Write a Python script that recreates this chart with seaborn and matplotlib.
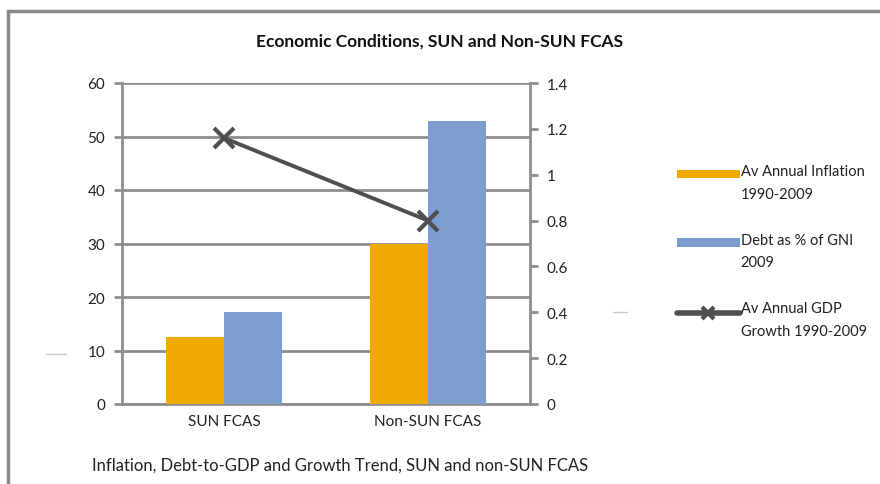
import numpy as np
import pandas as pd
import matplotlib
matplotlib.use("Agg")
import matplotlib.pyplot as plt
from matplotlib.lines import Line2D
from matplotlib.patches import Patch, Rectangle
from matplotlib.legend_handler import HandlerPatch, HandlerLine2D
import seaborn as sns

categories = ["SUN FCAS", "Non-SUN FCAS"]
inflation = [12.5, 30.0]
debt = [17.2, 52.9]
gdp_growth = [1.16, 0.80]
series_names = ["Av Annual Inflation\n1990-2009", "Debt as % of GNI\n2009",
                "Av Annual GDP\nGrowth 1990-2009"]
left_ticks = [0, 10, 20, 30, 40, 50, 60]
right_ticks = [0, 0.2, 0.4, 0.6, 0.8, 1, 1.2, 1.4]
right_tick_labels = ["0", "0.2", "0.4", "0.6", "0.8", "1", "1.2", "1.4"]
title = "Economic Conditions, SUN and Non-SUN FCAS"
caption = "Inflation, Debt-to-GDP and Growth Trend, SUN and non-SUN FCAS"

sns.set_theme(style="white")
plt.rcParams["font.family"] = ["Lato", "DejaVu Sans"]

orange = "#EFA900"
blue = "#7B9DD0"
linec = "#4F4F4F"
gridc = "#8E8E8E"
textc = "#222222"

df = pd.DataFrame({
    "cat": categories * 2,
    "val": inflation + debt,
    "series": [series_names[0]] * 2 + [series_names[1]] * 2,
})

fig = plt.figure(figsize=(8.8, 4.85), dpi=100)
ax = fig.add_axes([122 / 880, 1 - 405 / 485, (530 - 122) / 880, (405 - 84) / 485])

sns.barplot(data=df, x="cat", y="val", hue="series", order=categories,
            hue_order=series_names[:2], palette=[orange, blue], ax=ax,
            width=0.57, saturation=1, legend=False, zorder=3, linewidth=0)

ax.set_ylim(0, 60)
ax.set_xlim(-0.5, 1.5)
ax.set_yticks(left_ticks)
ax.set_yticklabels([str(t) for t in left_ticks], fontsize=11, color=textc)
ax.set_xticks(range(len(categories)))
ax.set_xticklabels(categories, fontsize=11, color=textc)
ax.set_xticks([-0.5, 0.5, 1.5], minor=True)
ax.tick_params(axis="x", which="major", length=0, pad=7)
ax.tick_params(axis="x", which="minor", length=6, width=2, color=gridc, direction="out")
ax.tick_params(axis="y", length=6, width=2, color=gridc, direction="out", left=True, pad=6)
ax.set_xlabel("")
ax.set_ylabel("")
ax.yaxis.grid(True, color=gridc, linewidth=2)
ax.set_axisbelow(True)
for s in ["top", "right"]:
    ax.spines[s].set_visible(False)
for s in ["left", "bottom"]:
    ax.spines[s].set_color(gridc)
    ax.spines[s].set_linewidth(2)

ax2 = ax.twinx()
sns.pointplot(x=categories, y=gdp_growth, order=categories, ax=ax2, color=linec,
              markers="x", markersize=15, markeredgewidth=3, linewidth=2.8,
              errorbar=None, zorder=5)
ax2.set_xlim(-0.5, 1.5)
ax2.set_ylim(0, 1.4)
ax2.set_yticks(right_ticks)
ax2.set_yticklabels(right_tick_labels, fontsize=11, color=textc)
ax2.tick_params(axis="y", length=6, width=2, color=gridc, direction="out", right=True, pad=6)
ax2.set_ylabel("")
ax2.set_xlabel("")
for s in ["top", "left", "bottom"]:
    ax2.spines[s].set_visible(False)
ax2.spines["right"].set_color(gridc)
ax2.spines["right"].set_linewidth(2)

# legend handles aligned with the first line of each label
SHIFT = 6.3


def top_patch(legend, orig_handle, xdescent, ydescent, width, height, **kwargs):
    return Rectangle((-xdescent, -ydescent + SHIFT), width, height)


class TopLine(HandlerLine2D):
    def create_artists(self, legend, orig_handle, xdescent, ydescent,
                       width, height, fontsize, trans):
        arts = super().create_artists(legend, orig_handle, xdescent, ydescent,
                                      width, height, fontsize, trans)
        for a in arts:
            a.set_ydata(np.asarray(a.get_ydata()) + SHIFT - 1)
        return arts


handles = [Patch(facecolor=orange, edgecolor="none"),
           Patch(facecolor=blue, edgecolor="none"),
           Line2D([0], [0], color=linec, linewidth=4, marker="x",
                  markersize=8, markeredgewidth=3)]
leg = fig.legend(handles, series_names, loc="center left",
                 bbox_to_anchor=(664 / 880, 1 - 252 / 485), frameon=False,
                 fontsize=10.5, labelspacing=2.2, handlelength=4.3, handletextpad=0.05,
                 handleheight=0.5, labelcolor=textc,
                 handler_map={Patch: HandlerPatch(patch_func=top_patch),
                              Line2D: TopLine()})
for t in leg.get_texts():
    t.set_linespacing(1.8)

fig.text(440 / 880, 1 - 42 / 485, title, ha="center", va="center",
         fontsize=12.5, fontweight="bold", color="#111111")
fig.text(92 / 880, 1 - 466 / 485, caption, ha="left", va="center",
         fontsize=12, color=textc)

# outer frame
fig.patches.append(Rectangle((8 / 880, -0.1), 1.0, 1 - 12 / 485 + 0.1,
                             transform=fig.transFigure, fill=False,
                             edgecolor="#8A8A8A", linewidth=2.5))
# small stray marks
fig.add_artist(Line2D([46 / 880, 66 / 880], [1 - 355 / 485] * 2,
                      transform=fig.transFigure, color="#C8C8C8", linewidth=1))
fig.add_artist(Line2D([613 / 880, 627 / 880], [1 - 313 / 485] * 2,
                      transform=fig.transFigure, color="#C8C8C8", linewidth=1))

fig.savefig("out.png", dpi=100)
